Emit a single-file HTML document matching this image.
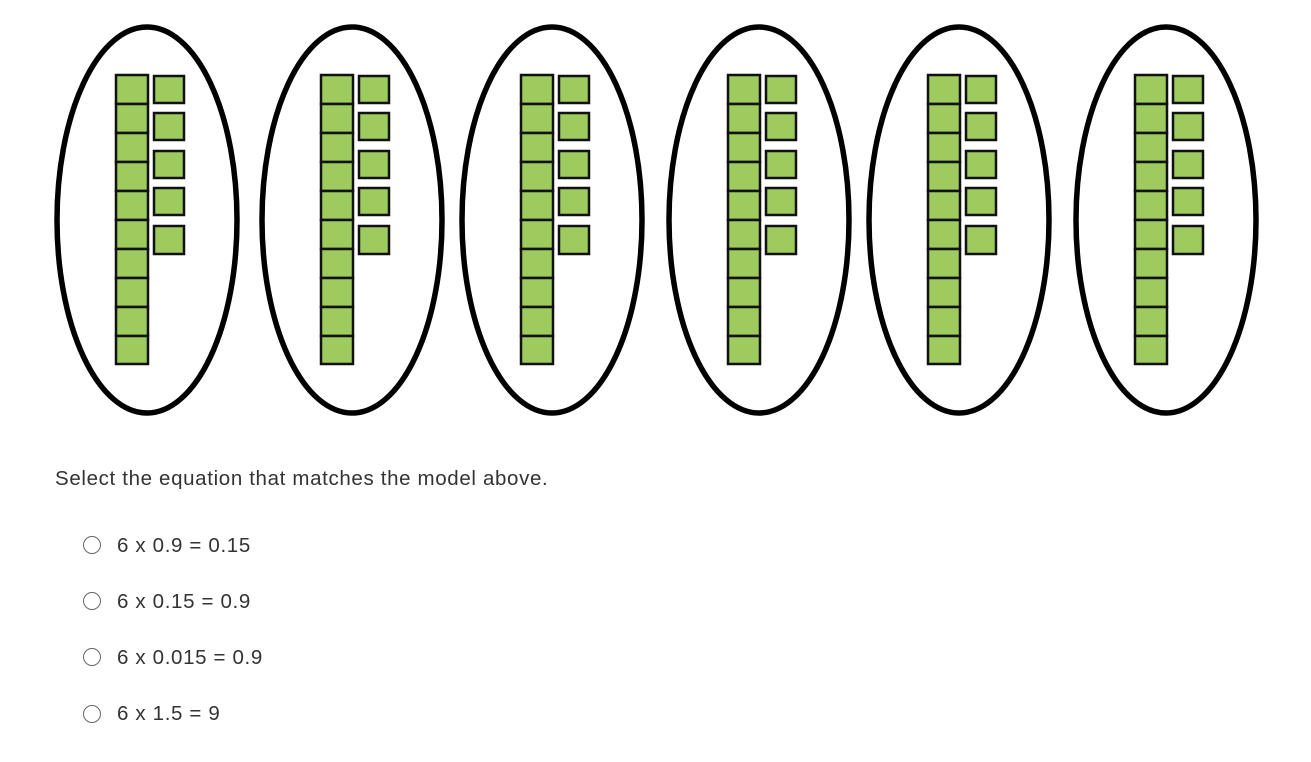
<!DOCTYPE html>
<html><head><style>
body{margin:0;width:1311px;height:762px;background:#fff;font-family:"Liberation Sans",Arial,sans-serif;color:#333;position:relative;overflow:hidden}
.t{position:absolute;font-size:20.5px;letter-spacing:0.65px;line-height:22px;white-space:nowrap}
.c{position:absolute;width:18px;height:18px;border:1.5px solid #666;border-radius:50%;box-sizing:border-box}
</style></head><body>
<svg width="1311" height="440" style="position:absolute;left:0;top:0">
<g id="g0">
<ellipse cx="147" cy="220" rx="90" ry="193" fill="none" stroke="#000" stroke-width="5.5"/>
<g fill="#9ecb5e" stroke="#111" stroke-width="2.5">
<rect x="116" y="75" width="32" height="29"/><rect x="116" y="104" width="32" height="29"/><rect x="116" y="133" width="32" height="29"/><rect x="116" y="162" width="32" height="29"/><rect x="116" y="191" width="32" height="29"/><rect x="116" y="220" width="32" height="29"/><rect x="116" y="249" width="32" height="29"/><rect x="116" y="278" width="32" height="29"/><rect x="116" y="307" width="32" height="29"/><rect x="116" y="336" width="32" height="28"/>
<rect x="154" y="76" width="30" height="27"/><rect x="154" y="113" width="30" height="27"/><rect x="154" y="151" width="30" height="27"/><rect x="154" y="188" width="30" height="27"/><rect x="154" y="226" width="30" height="28"/>
</g></g>
<use href="#g0" x="205"/>
<use href="#g0" x="405"/>
<use href="#g0" x="612"/>
<use href="#g0" x="812"/>
<use href="#g0" x="1019"/>
</svg>
<div class="t" style="left:55px;top:468px">Select the equation that matches the model above.</div>
<div class="c" style="left:83px;top:536px"></div><div class="t" style="left:117px;top:535px">6 x 0.9 = 0.15</div>
<div class="c" style="left:83px;top:592px"></div><div class="t" style="left:117px;top:591px">6 x 0.15 = 0.9</div>
<div class="c" style="left:83px;top:648px"></div><div class="t" style="left:117px;top:647px">6 x 0.015 = 0.9</div>
<div class="c" style="left:83px;top:705px"></div><div class="t" style="left:117px;top:703px">6 x 1.5 = 9</div>
</body></html>
